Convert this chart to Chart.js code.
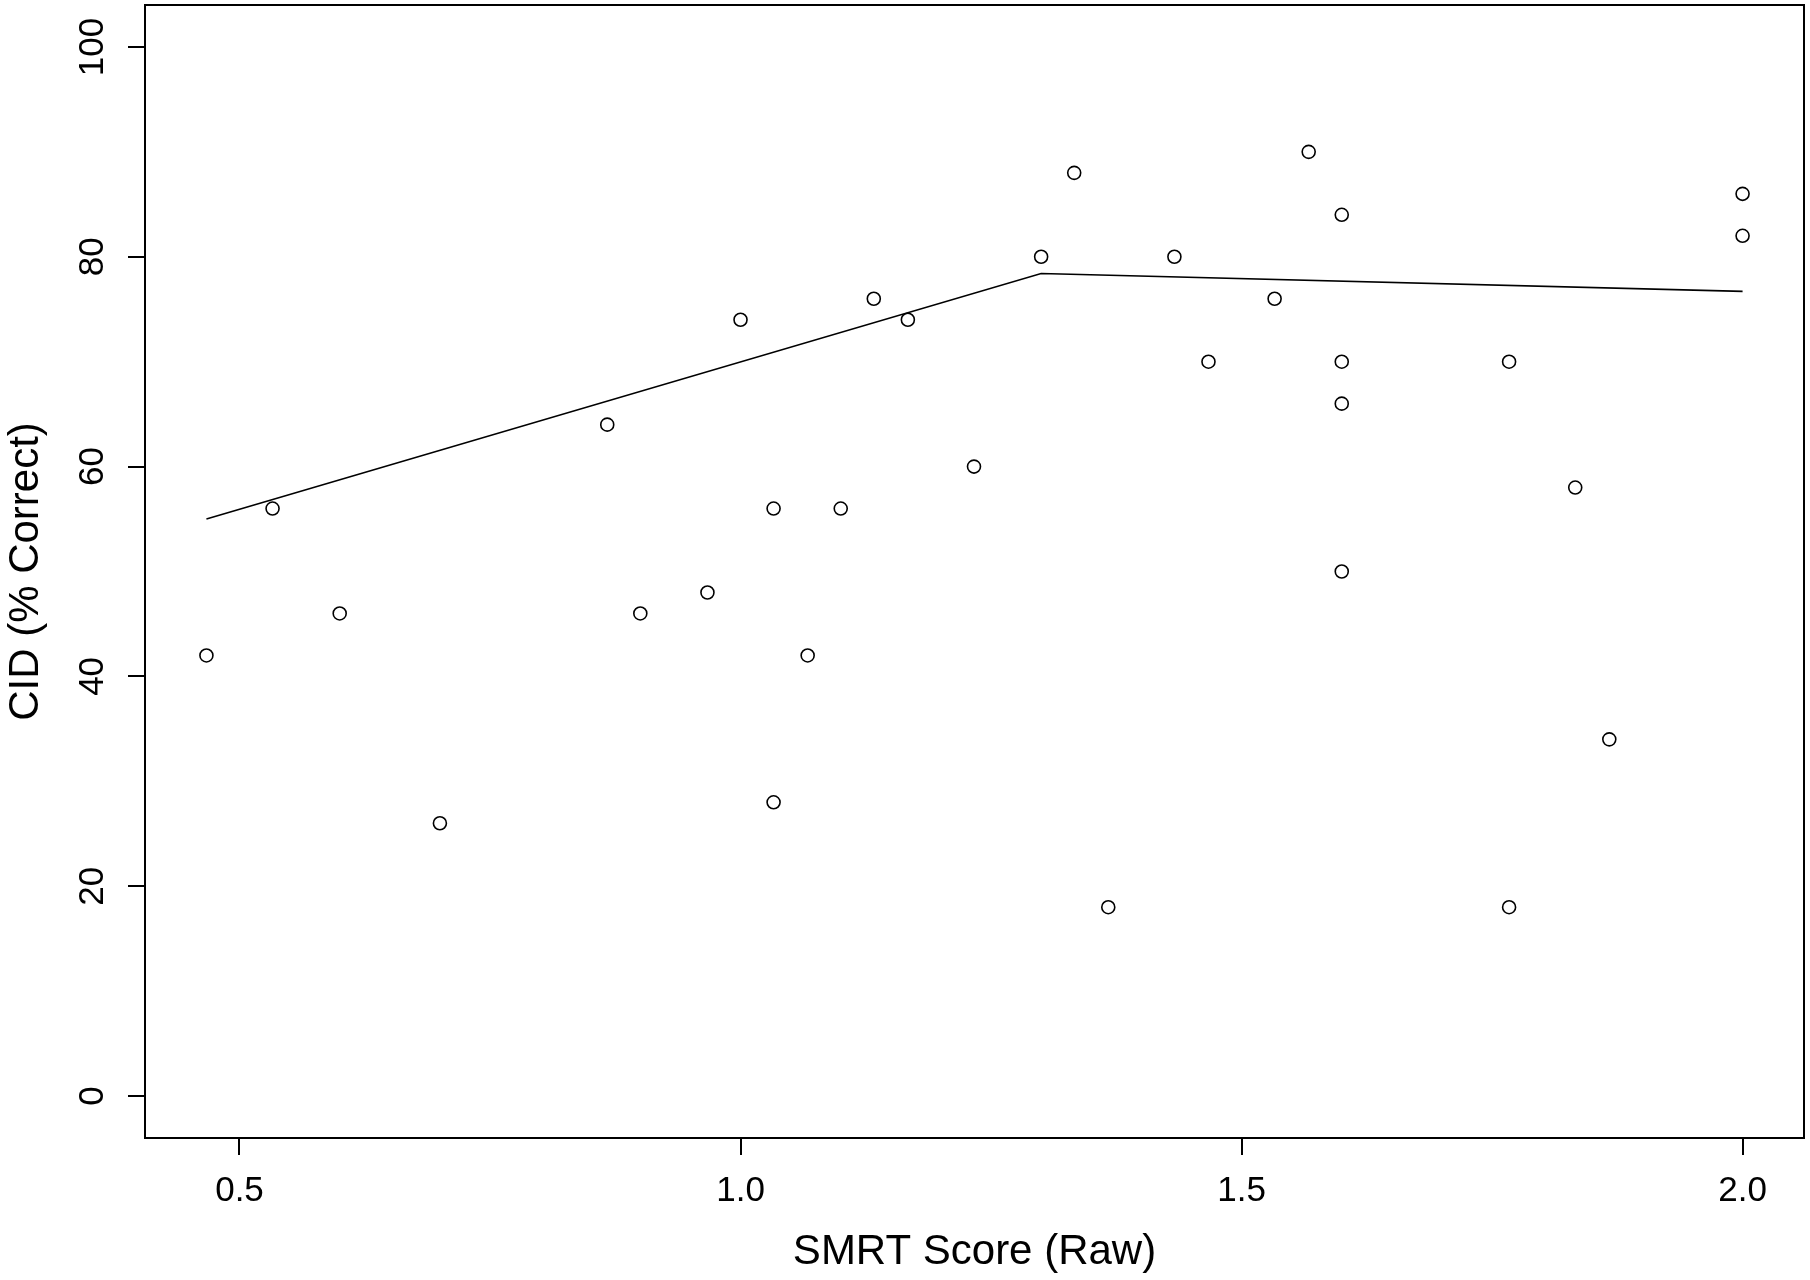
<!DOCTYPE html>
<html>
<head>
<meta charset="utf-8">
<script src="https://cdn.jsdelivr.net/npm/chart.js@4"></script>
<style>
  body { margin: 0; background: #fff; }
  #wrap { width: 1810px; height: 1280px; }
</style>
</head>
<body>
<div id="wrap"><canvas id="smrtChart" width="1810" height="1280"></canvas></div>
<script>
// SMRT score vs CID, one point per listener
var smrtScore = [0.467, 0.533, 0.6, 0.7, 0.867, 0.9, 0.967, 1.0, 1.033, 1.033,
                 1.067, 1.1, 1.133, 1.167, 1.233, 1.3, 1.333, 1.367, 1.433, 1.467,
                 1.533, 1.567, 1.6, 1.6, 1.6, 1.6, 1.767, 1.767, 1.833, 1.867,
                 2.0, 2.0];
var cidCorrect = [42, 56, 46, 26, 64, 46, 48, 74, 56, 28,
                  42, 56, 76, 74, 60, 80, 88, 18, 80, 70,
                  76, 90, 84, 70, 66, 50, 70, 18, 58, 34,
                  86, 82];

// fitted segmented line (breakpoint ~1.3)
var fitX = [0.467, 1.3, 2.0];
var fitY = [55, 78.4, 76.7];

var xTicks = [0.5, 1.0, 1.5, 2.0];
var yTicks = [0, 20, 40, 60, 80, 100];

var xTitle = 'SMRT Score (Raw)';
var yTitle = 'CID (% Correct)';

var FONT = '"Liberation Sans", Arial, sans-serif';

var points = smrtScore.map(function (v, i) { return { x: v, y: cidCorrect[i] }; });
var fitLine = fitX.map(function (v, i) { return { x: v, y: fitY[i] }; });

// draws the box, rotated y labels and the axis titles like R does
var rFrame = {
    id: 'rFrame',
    afterDraw: function (chart) {
        var c = chart.ctx, a = chart.chartArea, ys = chart.scales.y;
        c.save();
        c.strokeStyle = '#000';
        c.lineWidth = 2;
        c.strokeRect(a.left, a.top, a.right - a.left, a.bottom - a.top);

        c.fillStyle = '#000';
        c.textAlign = 'center';
        c.textBaseline = 'alphabetic';
        c.font = '35px ' + FONT;
        yTicks.forEach(function (t) {
            c.save();
            c.translate(103, ys.getPixelForValue(t));
            c.rotate(-Math.PI / 2);
            c.fillText(String(t), 0, 0);
            c.restore();
        });

        c.font = '42px ' + FONT;
        c.save();
        c.translate(38, (a.top + a.bottom) / 2);
        c.rotate(-Math.PI / 2);
        c.fillText(yTitle, 0, 0);
        c.restore();

        c.fillText(xTitle, (a.left + a.right) / 2, 1264);
        c.restore();
    }
};

var smrtChart = new Chart(document.getElementById('smrtChart').getContext('2d'), {
    type: 'scatter',
    data: {
        datasets: [{
            label: 'Listeners',
            data: points,
            pointStyle: 'circle',
            pointRadius: 6.5,
            pointHoverRadius: 6.5,
            borderColor: '#000',
            borderWidth: 1.6,
            backgroundColor: 'rgba(0,0,0,0)'
        }, {
            type: 'line',
            label: 'Fit',
            data: fitLine,
            borderColor: '#000',
            borderWidth: 1.6,
            pointRadius: 0,
            tension: 0,
            fill: false
        }]
    },
    options: {
        responsive: false,
        animation: false,
        layout: { autoPadding: false, padding: { top: 5, right: 6, left: 0, bottom: 0 } },
        plugins: { legend: { display: false }, tooltip: { enabled: false } },
        scales: {
            x: {
                type: 'linear',
                min: 0.4057,
                max: 2.0613,
                afterBuildTicks: function (s) { s.ticks = xTicks.map(function (v) { return { value: v }; }); },
                afterFit: function (s) { s.height = 142; },
                border: { display: false },
                grid: { drawOnChartArea: false, drawTicks: true, tickLength: 17, color: '#000', lineWidth: 2 },
                ticks: {
                    color: '#000',
                    padding: 15,
                    maxRotation: 0,
                    font: { family: FONT, size: 35 },
                    callback: function (v) { return Number(v).toFixed(1); }
                }
            },
            y: {
                type: 'linear',
                min: -4,
                max: 104,
                afterBuildTicks: function (s) { s.ticks = yTicks.map(function (v) { return { value: v }; }); },
                afterFit: function (s) { s.width = 145; },
                border: { display: false },
                grid: { drawOnChartArea: false, drawTicks: true, tickLength: 17, color: '#000', lineWidth: 2 },
                ticks: { display: false }
            }
        }
    },
    plugins: [rFrame]
});
</script>
</body>
</html>
